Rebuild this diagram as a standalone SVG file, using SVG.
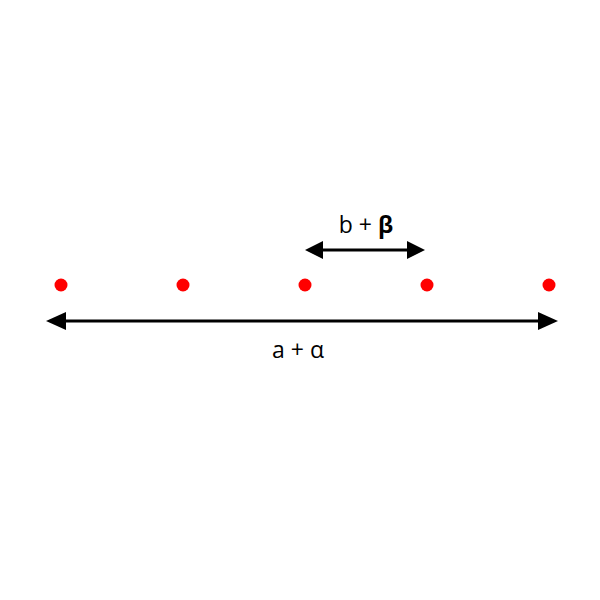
<svg xmlns="http://www.w3.org/2000/svg" width="600" height="600" viewBox="0 0 600 600">
<style>
.dot{fill:#ff0000}
.ln{stroke:#000;stroke-width:3;fill:none}
.hd{fill:#000}
.lbl{font-family:"Open Sans","Liberation Sans",sans-serif;font-size:23px;fill:#000;text-anchor:middle}
</style>
<rect width="600" height="600" fill="#fff"/>
<g id="dots">
<circle id="d1" class="dot" cx="61" cy="285" r="6.5"/>
<circle id="d2" class="dot" cx="183" cy="285" r="6.5"/>
<circle id="d3" class="dot" cx="305" cy="285" r="6.5"/>
<circle id="d4" class="dot" cx="427" cy="285" r="6.5"/>
<circle id="d5" class="dot" cx="549" cy="285" r="6.5"/>
</g>
<g id="connectors">
<g id="arrow-b">
<line class="ln" x1="320" y1="250" x2="410" y2="250"/>
<polygon class="hd" points="305,250 323,241 323,259"/>
<polygon class="hd" points="425,250 407,241 407,259"/>
</g>
<g id="arrow-a">
<line class="ln" x1="62" y1="321" x2="542" y2="321"/>
<polygon class="hd" points="46,321 66,312 66,330"/>
<polygon class="hd" points="558,321 538,312 538,330"/>
</g>
</g>
<g id="labels">
<text class="lbl" x="366" y="233">b + <tspan font-weight="bold">β</tspan></text>
<text class="lbl" x="298" y="358">a + α</text>
</g>
</svg>
